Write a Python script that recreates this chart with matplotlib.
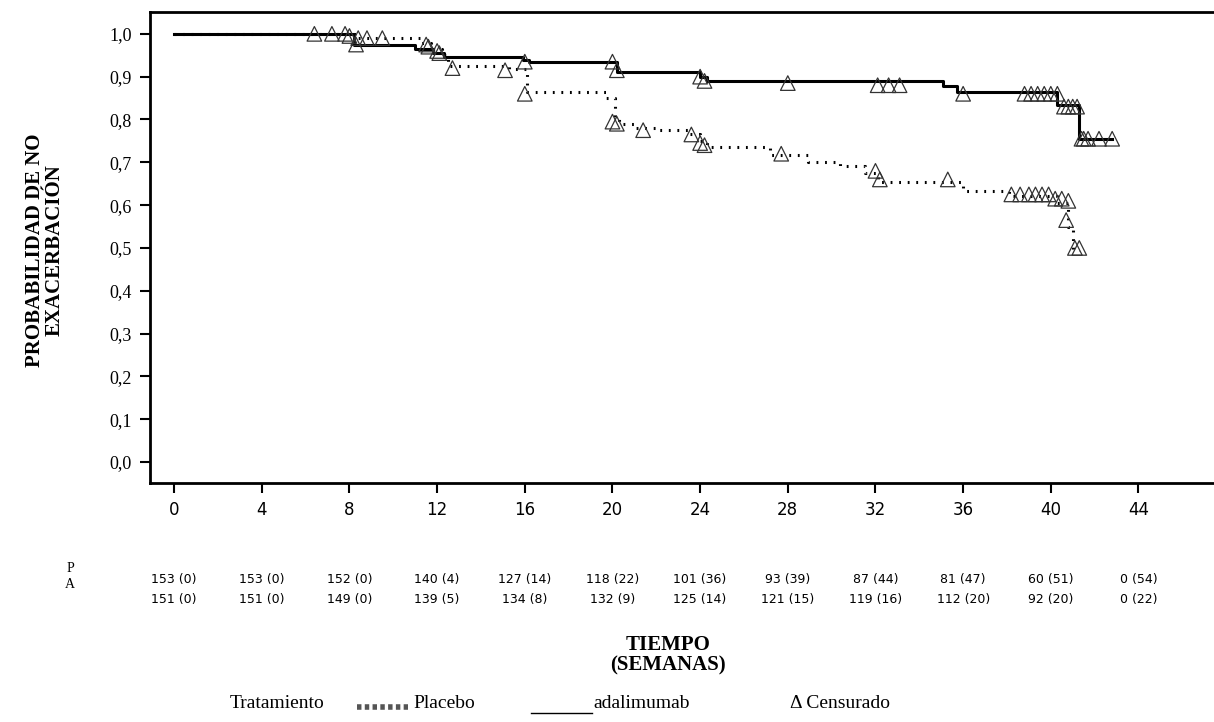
import matplotlib
matplotlib.use("Agg")
import matplotlib.pyplot as plt

# step curves: (week, survival) change points
ada_t = [0, 8.2, 11.0, 11.8, 12.3, 15.9, 16.2, 20.2, 24.0, 24.3, 32.1, 35.1, 35.7, 40.3, 41.3, 42.8]
ada_s = [1.0, 0.975, 0.965, 0.955, 0.945, 0.94, 0.935, 0.91, 0.90, 0.89, 0.889, 0.878, 0.863, 0.834, 0.754, 0.754]
pla_t = [0, 8.4, 11.2, 11.7, 12.2, 12.5, 15.3, 16.1, 19.7, 20.1, 20.3, 21.0, 22.0, 23.5, 24.0, 24.3,
         27.2, 28.9, 30.4, 31.5, 32.1, 36.0, 38.1, 40.3, 40.8, 41.0, 41.3]
pla_s = [1.0, 0.99, 0.978, 0.965, 0.95, 0.924, 0.918, 0.865, 0.85, 0.80, 0.79, 0.78, 0.775, 0.765, 0.75, 0.735,
         0.717, 0.70, 0.692, 0.675, 0.655, 0.632, 0.621, 0.605, 0.55, 0.495, 0.495]

ada_cens_t = [8.3, 11.6, 12.1, 16.0, 20.0, 20.2, 24.0, 24.2, 28.0, 32.1, 32.6, 33.1, 36.0,
              38.8, 39.1, 39.4, 39.7, 40.0, 40.3, 40.6, 40.8, 41.0, 41.2, 41.4, 41.5, 41.7, 42.2, 42.8]
ada_cens_s = [0.975, 0.97, 0.955, 0.935, 0.935, 0.915, 0.90, 0.89, 0.885, 0.88, 0.88, 0.88, 0.86,
              0.86, 0.86, 0.86, 0.86, 0.86, 0.86, 0.83, 0.83, 0.83, 0.83, 0.755, 0.755, 0.755, 0.755, 0.755]
pla_cens_t = [6.4, 7.2, 7.8, 8.0, 8.4, 8.8, 9.5, 11.5, 12.0, 12.7, 15.1, 16.0, 20.0, 20.2, 21.4, 23.6, 24.0, 24.2,
              27.7, 32.0, 32.2, 35.3, 38.2, 38.6, 39.0, 39.3, 39.6, 39.9, 40.2, 40.5, 40.8, 40.7, 41.1, 41.3]
pla_cens_s = [1.0, 1.0, 1.0, 0.995, 0.99, 0.99, 0.99, 0.975, 0.96, 0.92, 0.915, 0.86, 0.795, 0.79, 0.775, 0.765,
              0.745, 0.74, 0.72, 0.68, 0.66, 0.66, 0.625, 0.625, 0.625, 0.625, 0.625, 0.625, 0.615, 0.615,
              0.61, 0.565, 0.50, 0.50]

weeks = [0, 4, 8, 12, 16, 20, 24, 28, 32, 36, 40, 44]
risk_p = ["153 (0)", "153 (0)", "152 (0)", "140 (4)", "127 (14)", "118 (22)", "101 (36)", "93 (39)",
          "87 (44)", "81 (47)", "60 (51)", "0 (54)"]
risk_a = ["151 (0)", "151 (0)", "149 (0)", "139 (5)", "134 (8)", "132 (9)", "125 (14)", "121 (15)",
          "119 (16)", "112 (20)", "92 (20)", "0 (22)"]
yticks = [0.0, 0.1, 0.2, 0.3, 0.4, 0.5, 0.6, 0.7, 0.8, 0.9, 1.0]

serif = "Liberation Serif"
fig = plt.figure(figsize=(12.14, 7.22), dpi=100)
ax = fig.add_axes([150/1214, 1 - 483/722, 1 - 150/1214 + 0.01, (483 - 12)/722])
ax.set_xlim(-1.1, 48.0)
ax.set_ylim(-0.049, 1.051)

ax.step(ada_t, ada_s, where="post", color="black", lw=2.2)
ax.step(pla_t, pla_s, where="post", color="black", lw=2.2, linestyle=(0, (0.6, 2.2)))
ax.scatter(ada_cens_t, ada_cens_s, marker="^", s=110, facecolors="none", edgecolors="#333333", lw=0.9, zorder=3)
ax.scatter(pla_cens_t, pla_cens_s, marker="^", s=110, facecolors="none", edgecolors="#333333", lw=0.9, zorder=3)

ax.set_xticks(weeks)
ax.set_xticklabels([str(w) for w in weeks], fontsize=12)
ax.set_yticks(yticks)
ax.set_yticklabels([f"{v:.1f}".replace(".", ",") for v in yticks], fontsize=13, family=serif)
ax.tick_params(length=7, width=1.5, pad=6)
ax.spines["right"].set_visible(False)
for s in ["top", "left", "bottom"]:
    ax.spines[s].set_linewidth(2)

fig.text(45/1214, 1 - 250/722, "PROBABILIDAD DE NO\nEXACERBACIÓN", rotation=90, ha="center", va="center",
         fontsize=15, fontweight="bold", family=serif, linespacing=1.0)

# risk table
fig.text(70/1214, 1 - 568/722, "P", fontsize=10, family=serif, ha="center", va="center")
fig.text(70/1214, 1 - 584/722, "A", fontsize=10, family=serif, ha="center", va="center")
for w, p, a in zip(weeks, risk_p, risk_a):
    xf = ax.transData.transform((w, 0))[0] / fig.bbox.width
    fig.text(xf, 1 - 579/722, p, fontsize=9, ha="center", va="center")
    fig.text(xf, 1 - 599/722, a, fontsize=9, ha="center", va="center")

fig.text(668/1214, 1 - 655/722, "TIEMPO\n(SEMANAS)", fontsize=15, fontweight="bold", family=serif,
         ha="center", va="center", linespacing=1.0)

ly = 1 - 704/722
fig.text(230/1214, ly, "Tratamiento", fontsize=14, family=serif, va="center")
fig.lines.append(plt.Line2D([357/1214, 408/1214], [ly - 0.004, ly - 0.004], transform=fig.transFigure,
                            color="#555555", lw=4, linestyle=(0, (0.8, 0.6))))
fig.text(413/1214, ly, "Placebo", fontsize=14, family=serif, va="center")
fig.lines.append(plt.Line2D([531/1214, 592/1214], [ly - 0.012, ly - 0.012], transform=fig.transFigure,
                            color="black", lw=1))
fig.text(593/1214, ly, "adalimumab", fontsize=14, family=serif, va="center")
fig.text(790/1214, ly, "Δ Censurado", fontsize=14, family=serif, va="center")

fig.savefig("out.png", dpi=100)
